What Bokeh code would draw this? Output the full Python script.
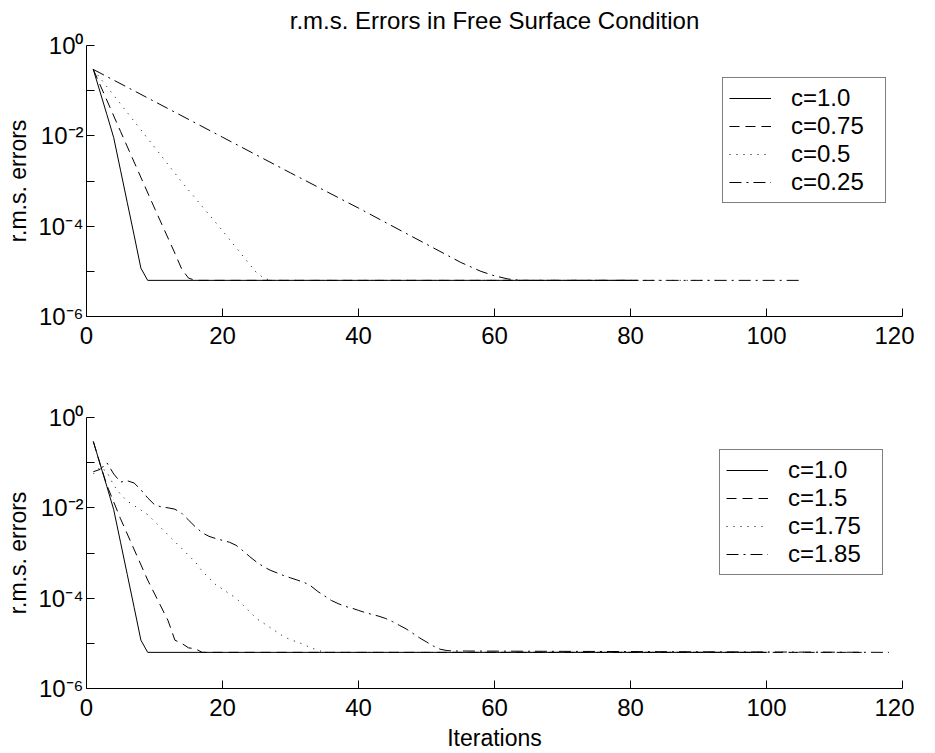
from bokeh.plotting import figure
from bokeh.layouts import column
from bokeh.models import FixedTicker, CustomJSTickFormatter, Legend, LegendItem, Title
from bokeh.embed import file_html
from bokeh.resources import INLINE

# ---------------- data (log10 of r.m.s. error) ----------------
# top panel
top_c100_x = [1, 2, 3, 4, 5, 6, 7, 8, 9, 81]
top_c100_log = [-0.53, -1.03, -1.53, -2.04, -2.76, -3.48, -4.20, -4.93, -5.20, -5.20]
top_c075_x = [1, 5, 10, 13, 14, 15, 16, 81]
top_c075_log = [-0.53, -1.90, -3.60, -4.60, -4.95, -5.15, -5.20, -5.20]
top_c050_x = [1, 10, 14, 20, 24, 25, 26, 27, 93]
top_c050_log = [-0.53, -2.25, -3.02, -4.10, -4.85, -5.03, -5.14, -5.20, -5.20]
top_c025_x = [1, 10, 20, 30, 40, 50, 55, 58, 60, 62, 64, 105]
top_c025_log = [-0.53, -1.24, -2.03, -2.82, -3.60, -4.40, -4.80, -5.00, -5.10, -5.17, -5.20, -5.20]

# bottom panel
bot_c100_x = [1, 2, 3, 4, 5, 6, 7, 8, 9, 100]
bot_c100_log = [-0.53, -1.03, -1.53, -2.04, -2.76, -3.48, -4.20, -4.93, -5.20, -5.20]
bot_c150_x = [1, 2, 3, 5, 9, 12, 13, 14, 15, 16, 17, 114]
bot_c150_log = [-0.53, -1.03, -1.50, -2.24, -3.60, -4.50, -4.93, -5.00, -5.10, -5.12, -5.20, -5.20]
bot_c175_x = list(range(1, 36)) + [110]
bot_c175_log = [-1.25, -1.10, -1.20, -1.50, -1.70, -1.85, -1.95, -2.05, -2.15, -2.30,
                -2.45, -2.60, -2.75, -2.90, -3.05, -3.20, -3.40, -3.55, -3.70, -3.80,
                -3.90, -4.00, -4.15, -4.30, -4.45, -4.55, -4.65, -4.75, -4.85, -4.92,
                -4.97, -5.03, -5.10, -5.15, -5.20, -5.20]
bot_c185_x = list(range(1, 55)) + [118]
bot_c185_log = [-1.20, -1.15, -1.00, -1.25, -1.43, -1.40, -1.45, -1.60, -1.78, -1.93,
                -1.98, -2.00, -2.03, -2.12, -2.27, -2.42, -2.55, -2.63, -2.68, -2.72,
                -2.76, -2.83, -2.95, -3.08, -3.20, -3.30, -3.38, -3.44, -3.50, -3.55,
                -3.60, -3.65, -3.73, -3.85, -3.95, -4.05, -4.12, -4.18, -4.22, -4.27,
                -4.32, -4.36, -4.40, -4.45, -4.52, -4.60, -4.68, -4.78, -4.88, -4.97,
                -5.06, -5.13, -5.16, -5.17, -5.20]

top_labels = ["c=1.0", "c=0.75", "c=0.5", "c=0.25"]
bot_labels = ["c=1.0", "c=1.5", "c=1.75", "c=1.85"]
x_ticks = [0, 20, 40, 60, 80, 100, 120]
y_ticks = [1e-6, 1e-5, 1e-4, 1e-3, 1e-2, 1e-1, 1e0]

title_text = "r.m.s. Errors in Free Surface Condition"
y_label = "r.m.s. errors"
x_label = "Iterations"

FONT = "Liberation Sans"
DASHES = ["solid", "10 6", "1 6", "12 5 2 5"]

# label every second decade as 10 with a superscript exponent
fmt_code = """
const e = Math.round(Math.log10(tick));
if (e % 2 !== 0) return "";
const sup = {"0":"\\u2070","1":"\\u00b9","2":"\\u00b2","3":"\\u00b3","4":"\\u2074",
             "5":"\\u2075","6":"\\u2076","-":"\\u207b"};
return "10" + String(e).split("").map(c => sup[c]).join("");
"""


def make_panel(series, labels, top_border, bottom_border, title=None, xlabel=None,
               legend_loc=(634, 112)):
    p = figure(frame_width=816, frame_height=271, y_axis_type="log",
               x_range=(0, 120), y_range=(1e-6, 1),
               output_backend="svg", toolbar_location=None,
               min_border_left=86, min_border_right=12,
               min_border_top=top_border, min_border_bottom=bottom_border)
    p.outline_line_color = None
    p.grid.visible = False
    p.background_fill_color = "white"
    p.border_fill_color = "white"

    if title:
        # small blank spacer between frame and title (keeps the title near the top edge)
        p.add_layout(Title(text=" ", text_font_size="9px", standoff=0), "above")
        p.title.text = title
        p.title.align = "center"
        p.title.text_font = FONT
        p.title.text_font_size = "24px"
        p.title.text_font_style = "normal"
        p.title.text_color = "black"
        p.title.standoff = 0

    for ax in (p.xaxis[0], p.yaxis[0]):
        ax.axis_line_color = "black"
        ax.axis_line_width = 1
        ax.major_tick_in = 8
        ax.major_tick_out = 0
        ax.major_tick_line_color = "black"
        ax.minor_tick_line_color = None
        ax.major_label_text_font = FONT
        ax.major_label_text_font_size = "24px"
        ax.major_label_text_color = "black"
        ax.axis_label_text_font = FONT
        ax.axis_label_text_font_size = "23px"
        ax.axis_label_text_font_style = "normal"
        ax.axis_label_text_color = "black"

    p.xaxis.ticker = FixedTicker(ticks=x_ticks)
    p.xaxis.major_label_standoff = 10
    p.yaxis.ticker = FixedTicker(ticks=y_ticks)
    p.yaxis.formatter = CustomJSTickFormatter(code=fmt_code)
    p.yaxis.major_label_standoff = 3
    p.yaxis.axis_label = y_label
    p.yaxis.axis_label_standoff = 4
    if xlabel:
        p.xaxis.axis_label = xlabel
        p.xaxis.axis_label_standoff = 6

    items = []
    for (xs, ls), lab, dash in zip(series, labels, DASHES):
        ys = [10 ** v for v in ls]
        r = p.line(xs, ys, line_color="black", line_width=1, line_dash=dash)
        items.append(LegendItem(label=lab, renderers=[r]))

    leg = Legend(items=items, location=legend_loc)
    leg.border_line_color = "black"
    leg.border_line_width = 1
    leg.background_fill_color = "white"
    leg.background_fill_alpha = 1
    leg.label_text_font = FONT
    leg.label_text_font_size = "24px"
    leg.label_text_color = "black"
    leg.glyph_width = 42
    leg.glyph_height = 26
    leg.label_height = 26
    leg.label_width = 88
    leg.label_standoff = 20
    leg.padding = 6
    leg.spacing = 0
    leg.margin = 0
    p.add_layout(leg)
    return p


p1 = make_panel([(top_c100_x, top_c100_log), (top_c075_x, top_c075_log),
                 (top_c050_x, top_c050_log), (top_c025_x, top_c025_log)],
                top_labels, top_border=45, bottom_border=40, title=title_text,
                legend_loc=(636, 113))
p2 = make_panel([(bot_c100_x, bot_c100_log), (bot_c150_x, bot_c150_log),
                 (bot_c175_x, bot_c175_log), (bot_c185_x, bot_c185_log)],
                bot_labels, top_border=61, bottom_border=64, xlabel=x_label,
                legend_loc=(633, 113))

layout = column(p1, p2)
open("out.html", "w").write(file_html(layout, INLINE))
